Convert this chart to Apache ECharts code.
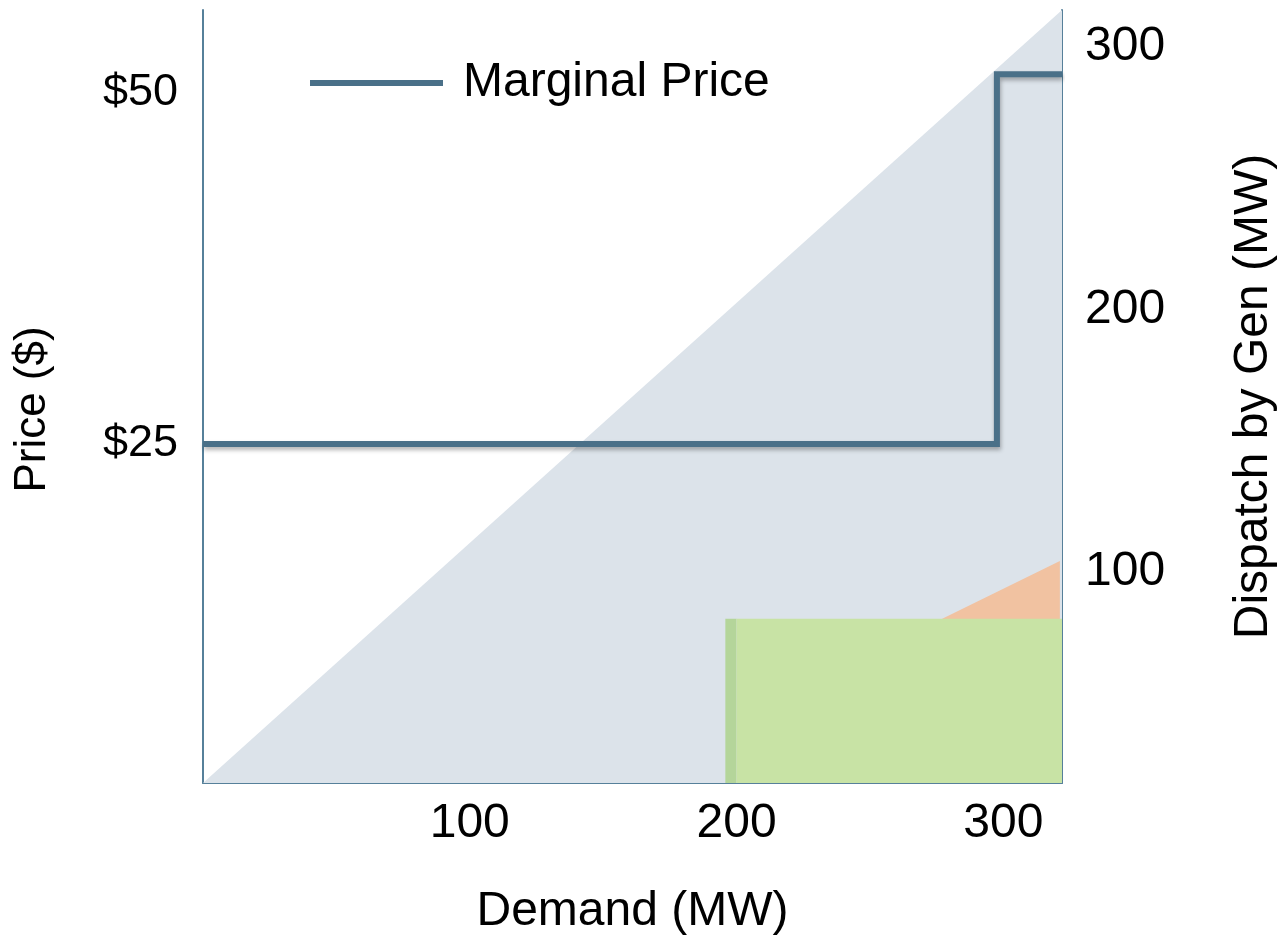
<!DOCTYPE html>
<html>
<head>
<meta charset="utf-8">
<script src="https://cdn.jsdelivr.net/npm/echarts@6/dist/echarts.min.js"></script>
<style>
  html, body { margin: 0; padding: 0; background: #ffffff; }
  #chart { width: 1286px; height: 941px; }
</style>
</head>
<body>
<div id="chart"></div>
<script>
// ---- data ----
const demandTicks = [100, 200, 300];
const priceTicks = [25, 50];
const dispatchTicks = [100, 200, 300];

// Marginal price step line
const priceDemand = [0, 297.6, 297.6, 322];
const priceValues = [25, 25, 51.3, 51.3];

// Dispatch areas (demand -> dispatch MW)
const grayDemand = [0, 322];
const grayDispatch = [19.4, 314.2];
const orangeDemand = [277.1, 321.2];
const orangeDispatch = [82, 104.1];
const greenEdgeDemand = [195.8, 200];
const greenEdgeDispatch = [82, 82];
const greenDemand = [200, 322];
const greenDispatch = [82, 82];

const zip = (a, b) => a.map((v, i) => [v, b[i]]);

const FONT = 'Liberation Sans';
const AXIS_COLOR = '#56809a';
const LINE_COLOR = '#4a7088';

const chart = echarts.init(document.getElementById('chart'));

function areaSeries(name, data, color) {
  return {
    name: name,
    type: 'line',
    xAxisIndex: 0,
    yAxisIndex: 1,
    data: data,
    symbol: 'none',
    silent: true,
    lineStyle: { width: 0, color: color },
    itemStyle: { color: color },
    areaStyle: { color: color, opacity: 1, origin: 'start' },
    animation: false
  };
}

const option = {
  animation: false,
  grid: { left: 203, right: 223, top: 10, bottom: 158 },
  legend: {
    data: ['Marginal Price'],
    left: 305,
    top: 52,
    icon: 'rect',
    itemWidth: 133,
    itemHeight: 6,
    textStyle: {
      fontFamily: FONT, fontSize: 48, color: '#000',
      padding: [0, 0, 0, 15], lineHeight: 52
    }
  },
  xAxis: {
    type: 'value',
    min: 0,
    max: 322,
    name: 'Demand (MW)',
    nameLocation: 'middle',
    nameGap: 105,
    nameTextStyle: { fontFamily: FONT, fontSize: 48, color: '#000' },
    axisLine: { show: true, lineStyle: { color: AXIS_COLOR, width: 2 } },
    axisTick: { show: false },
    splitLine: { show: false },
    axisLabel: {
      customValues: demandTicks,
      margin: 17,
      fontFamily: FONT, fontSize: 48, color: '#000'
    }
  },
  yAxis: [
    {
      type: 'value',
      position: 'left',
      min: 0.89,
      max: 55.87,
      name: 'Price ($)',
      nameLocation: 'middle',
      nameRotate: 90,
      nameGap: 148,
      nameTextStyle: {
        fontFamily: FONT, fontSize: 44, color: '#000',
        padding: [0, 26, 0, 0]
      },
      axisLine: { show: true, lineStyle: { color: AXIS_COLOR, width: 2 } },
      axisTick: { show: false },
      splitLine: { show: false },
      axisLabel: {
        customValues: priceTicks,
        margin: 25,
        formatter: v => '$' + v,
        fontFamily: FONT, fontSize: 45, color: '#000'
      }
    },
    {
      type: 'value',
      position: 'right',
      min: 19.4,
      max: 314.2,
      name: 'Dispatch by Gen (MW)',
      nameLocation: 'middle',
      nameRotate: 90,
      nameGap: 168,
      nameTextStyle: { fontFamily: FONT, fontSize: 48, color: '#000' },
      axisLine: { show: true, lineStyle: { color: AXIS_COLOR, width: 2 } },
      axisTick: { show: false },
      splitLine: { show: false },
      axisLabel: {
        customValues: dispatchTicks,
        margin: 23,
        fontFamily: FONT, fontSize: 48, color: '#000'
      }
    }
  ],
  series: [
    areaSeries('Gen gray', zip(grayDemand, grayDispatch), '#dce3ea'),
    areaSeries('Gen orange', zip(orangeDemand, orangeDispatch), '#f1c2a1'),
    areaSeries('Gen green edge', zip(greenEdgeDemand, greenEdgeDispatch), '#b4d59a'),
    areaSeries('Gen green', zip(greenDemand, greenDispatch), '#c8e3a5'),
    {
      name: 'Marginal Price',
      type: 'line',
      xAxisIndex: 0,
      yAxisIndex: 0,
      data: zip(priceDemand, priceValues),
      symbol: 'none',
      color: LINE_COLOR,
      lineStyle: {
        color: LINE_COLOR, width: 6, join: 'miter', cap: 'butt',
        shadowColor: 'rgba(0,0,0,0.3)', shadowBlur: 4, shadowOffsetY: 3, shadowOffsetX: 1
      },
      itemStyle: { color: LINE_COLOR },
      z: 5
    }
  ]
};

chart.setOption(option);
</script>
</body>
</html>
